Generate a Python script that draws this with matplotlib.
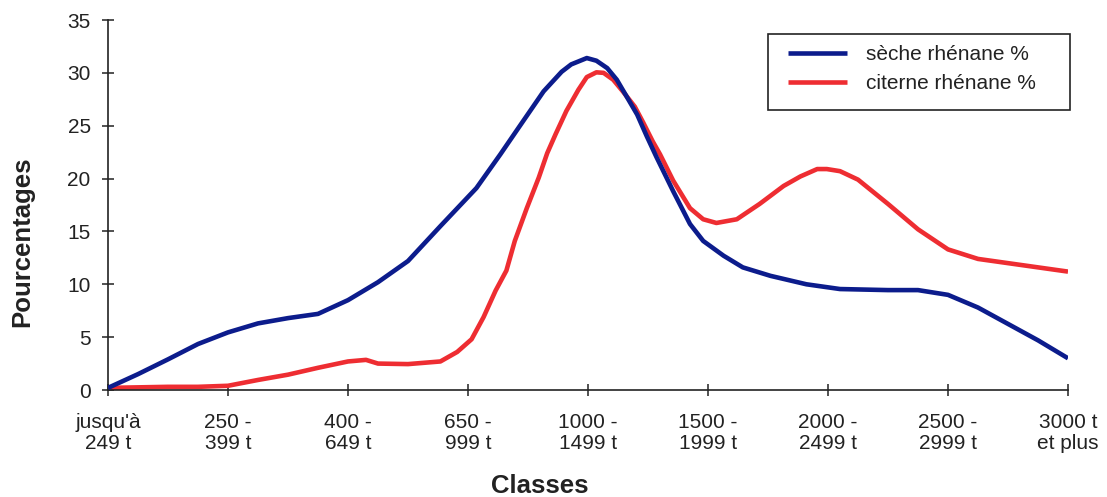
import matplotlib
matplotlib.use('Agg')
import matplotlib.pyplot as plt
from matplotlib.patches import Rectangle

plt.rcParams['font.family'] = ['Liberation Sans', 'DejaVu Sans']

classes = ["jusqu'à\n249 t", "250 -\n399 t", "400 -\n649 t", "650 -\n999 t",
           "1000 -\n1499 t", "1500 -\n1999 t", "2000 -\n2499 t", "2500 -\n2999 t",
           "3000 t\net plus"]

# positions en unités de classe (0 = première classe)
seche_x = [0, 0.25, 0.5, 0.75, 1, 1.25, 1.5, 1.75, 2, 2.25, 2.5, 2.77, 3.07,
           3.27, 3.43, 3.63, 3.78, 3.86, 3.99, 4.07, 4.16, 4.24, 4.32, 4.41,
           4.49, 4.57, 4.71, 4.85, 4.96, 5.13, 5.29, 5.52, 5.82, 6.1, 6.5, 6.75,
           7, 7.25, 7.5, 7.75, 8]
seche = [0.2, 1.5, 2.9, 4.35, 5.45, 6.3, 6.8, 7.2, 8.5, 10.2, 12.2, 15.5, 19.1,
         22.3, 24.95, 28.25, 30.1, 30.8, 31.4, 31.15, 30.45, 29.35, 27.8, 26.05,
         24.0, 22.05, 18.8, 15.7, 14.1, 12.7, 11.6, 10.8, 10.0, 9.55, 9.45, 9.45,
         9.0, 7.8, 6.25, 4.7, 3.0]

citerne_x = [0, 0.25, 0.5, 0.75, 1, 1.25, 1.5, 1.75, 2, 2.15, 2.25, 2.5, 2.77,
             2.91, 3.03, 3.13, 3.23, 3.32, 3.39, 3.49, 3.59, 3.66, 3.73, 3.82,
             3.92, 3.99, 4.07, 4.13, 4.21, 4.29, 4.39, 4.46, 4.54, 4.6, 4.71,
             4.85, 4.96, 5.07, 5.24, 5.43, 5.63, 5.77, 5.91, 5.99, 6.1, 6.25,
             6.5, 6.75, 7, 7.25, 7.5, 7.75, 8]
citerne = [0.2, 0.25, 0.3, 0.3, 0.4, 0.95, 1.45, 2.1, 2.7, 2.85, 2.5, 2.45, 2.7,
           3.6, 4.8, 6.9, 9.4, 11.3, 14.1, 17.2, 20.1, 22.4, 24.2, 26.4, 28.4,
           29.6, 30.05, 30.0, 29.35, 28.25, 26.8, 25.3, 23.5, 22.3, 19.8, 17.2,
           16.15, 15.8, 16.15, 17.6, 19.3, 20.2, 20.9, 20.9, 20.7, 19.9, 17.6,
           15.2, 13.3, 12.4, 12.0, 11.6, 11.2]

W, H = 1107, 497
fig = plt.figure(figsize=(W / 100, H / 100), dpi=100)
ax = fig.add_axes([108 / W, 1 - 390 / H, 960 / W, 370 / H])

ax.plot(seche_x, seche, color='#0c1c8c', lw=3.3, label='sèche rhénane %',
        solid_joinstyle='round', solid_capstyle='butt', zorder=3)
ax.plot(citerne_x, citerne, color='#ee2d32', lw=3.3, label='citerne rhénane %',
        solid_joinstyle='round', solid_capstyle='butt', zorder=2)

ax.set_xlim(0, 8)
ax.set_ylim(0, 35)
ax.set_xticks(range(len(classes)))
ax.set_xticklabels(classes, fontsize=15, linespacing=1.15)
ax.set_yticks(range(0, 36, 5))
ax.tick_params(axis='both', direction='inout', length=9, width=1.1,
               color='#222222', labelcolor='#222222', labelsize=15)
ax.tick_params(axis='x', pad=12)
ax.tick_params(axis='y', pad=8)
for s in ['top', 'right']:
    ax.spines[s].set_visible(False)
for s in ['left', 'bottom']:
    ax.spines[s].set_color('#222222')
    ax.spines[s].set_linewidth(1.2)

ax.set_ylabel('Pourcentages', fontsize=18.5, fontweight='bold', color='#222222',
              va='center', ha='center')
ax.yaxis.set_label_coords((22 - 108) / 960, (390 - 241.5) / 370)
ax.set_xlabel('Classes', fontsize=18.5, fontweight='bold', color='#222222',
              va='center', ha='center')
ax.xaxis.set_label_coords((540 - 108) / 960, (390 - 486) / 370)

# cadre de la légende
fig.patches.append(Rectangle((768 / W, 1 - 110 / H), 302 / W, 76 / H,
                             transform=fig.transFigure, fill=False,
                             edgecolor='#222222', lw=1.2))
leg = ax.legend(loc='upper left', bbox_to_anchor=(768 / W, 1 - 25 / H),
                bbox_transform=fig.transFigure, fontsize=15, frameon=False,
                handlelength=2.85, handletextpad=0.9, borderpad=0.95,
                labelspacing=0.5, borderaxespad=0)
for t in leg.get_texts():
    t.set_color('#222222')

fig.savefig('out.png', dpi=100)
